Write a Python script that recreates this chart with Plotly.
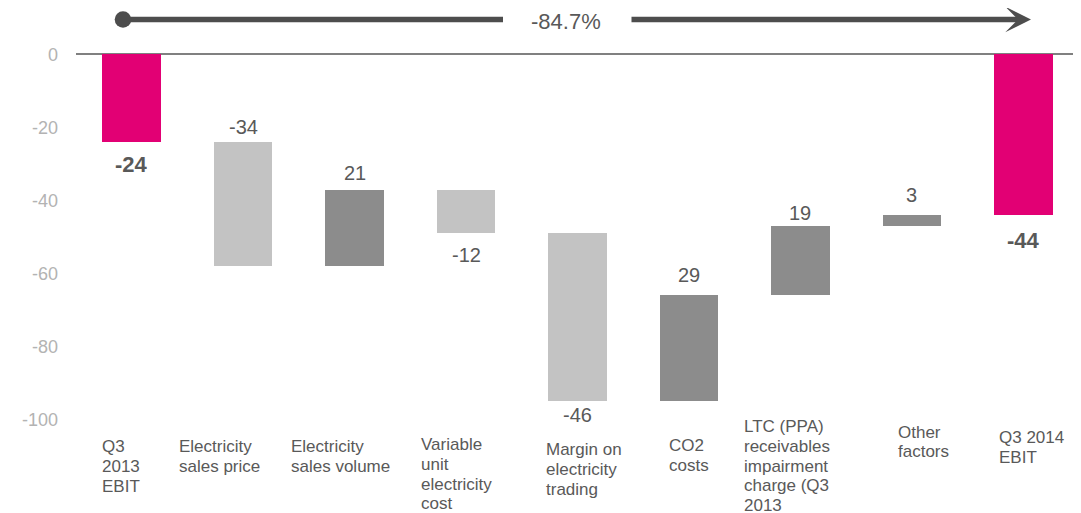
import plotly.graph_objects as go

# ---- data ----
categories = [
    "Q3<br>2013<br>EBIT",
    "Electricity<br>sales price",
    "Electricity<br>sales volume",
    "Variable<br>unit<br>electricity<br>cost",
    "Margin on<br>electricity<br>trading",
    "CO2<br>costs",
    "LTC (PPA)<br>receivables<br>impairment<br>charge (Q3<br>2013",
    "Other<br>factors",
    "Q3 2014<br>EBIT",
]
values = [-24, -34, 21, -12, -46, 29, 19, 3, -44]
kinds = ["total", "delta", "delta", "delta", "delta", "delta", "delta", "delta", "total"]
change_label = "-84.7%"
y_ticks = [0, -20, -40, -60, -80, -100]

# ---- styles / layout helpers ----
MAGENTA = "#E20074"
LIGHT = "#C3C3C3"
DARK = "#8C8C8C"
TEXT = "#595959"
TICK = "#B3B3B3"
ARROW = "#4D4D4D"
FONT = "Liberation Sans, Arial, sans-serif"

label_dx = [-32, -66, -66, -47, -34, -22, -58, -16, -26]
label_dy = [-8, -8, -8, -6, -11, -7, 12, 6.5, 1]
LINE_H = 19.8
value_side = ["below", "above", "above", "below", "below", "above", "above", "above", "below"]
value_gap = [22, 15, 17, 22, 14, 20, 13, 20, 25]

W, H = 1081, 513
OFF = 8  # page body margin
ML, MR, MT, MB = 68, 10, 39, 94
PW, PH = W - ML - MR, H - MT - MB


def px_x(p):
    return (p - OFF - ML) / PW


def px_y(p):
    return (H - MB - (p - OFF)) / PH


# compute bar bases from data
bases, heights, colors, ends_top, ends_bot = [], [], [], [], []
running = 0
for v, k in zip(values, kinds):
    if k == "total":
        base = 0
        running = v
        colors.append(MAGENTA)
    else:
        base = running
        running = running + v
        colors.append(DARK if v > 0 else LIGHT)
    bases.append(base)
    heights.append(v)
    ends_top.append(max(base, base + v))
    ends_bot.append(min(base, base + v))

xs = list(range(len(categories)))

fig = go.Figure()
fig.add_trace(go.Bar(
    x=xs, y=heights, base=bases, width=0.526,
    marker=dict(color=colors, line=dict(width=0)),
    hoverinfo="skip", showlegend=False,
))

annotations = []
for i, v in enumerate(values):
    total = kinds[i] == "total"
    if value_side[i] == "above":
        y = ends_top[i]
        ys = value_gap[i]
    else:
        y = ends_bot[i]
        ys = -value_gap[i]
    txt = f"<b>{v}</b>" if total else f"{v}"
    annotations.append(dict(
        x=i, y=y, xref="x", yref="y", text=txt, showarrow=False,
        yshift=ys, xanchor="center", yanchor="middle",
        font=dict(family=FONT, size=22 if total else 20, color=TEXT),
    ))

for i, c in enumerate(categories):
    for j, line in enumerate(c.split("<br>")):
        annotations.append(dict(
            x=i, y=0, xref="x", yref="paper", text=line, showarrow=False,
            xanchor="left", yanchor="top", align="left",
            xshift=label_dx[i], yshift=label_dy[i] - j * LINE_H,
            font=dict(family=FONT, size=17, color=TEXT),
        ))

# change label
annotations.append(dict(
    x=px_x(566), y=px_y(21), xref="paper", yref="paper", text=change_label,
    showarrow=False, xanchor="center", yanchor="middle",
    font=dict(family=FONT, size=22, color=TEXT),
))
# right arrow
annotations.append(dict(
    x=px_x(1031), y=px_y(19.5), xref="paper", yref="paper", text="",
    showarrow=True, arrowhead=3, arrowsize=0.78, arrowwidth=5.5,
    arrowcolor=ARROW, ax=-401, ay=0, standoff=0,
))

shapes = [
    dict(type="line", xref="paper", yref="paper",
         x0=px_x(123), x1=px_x(503), y0=px_y(19.5), y1=px_y(19.5),
         line=dict(color=ARROW, width=5.5)),
    dict(type="circle", xref="paper", yref="paper",
         x0=px_x(123 - 8.3), x1=px_x(123 + 8.3),
         y0=px_y(19.5 + 8.3), y1=px_y(19.5 - 8.3),
         fillcolor=ARROW, line=dict(color=ARROW, width=0)),
]

fig.update_layout(
    width=W, height=H,
    margin=dict(l=ML, r=MR, t=MT, b=MB, pad=0),
    paper_bgcolor="white", plot_bgcolor="white",
    xaxis=dict(range=[-0.5, len(categories) - 0.5], showticklabels=False,
               showgrid=False, zeroline=False, showline=False, ticks=""),
    yaxis=dict(range=[-102, 2], tickvals=y_ticks, ticktext=[str(t) for t in y_ticks],
               showgrid=False, zeroline=True, zerolinecolor="#808080", zerolinewidth=2,
               showline=False, ticks="", ticklabelstandoff=17,
               tickfont=dict(family=FONT, size=18, color=TICK)),
    annotations=annotations,
    shapes=shapes,
    bargap=0,
)

fig.write_html("out.html")
